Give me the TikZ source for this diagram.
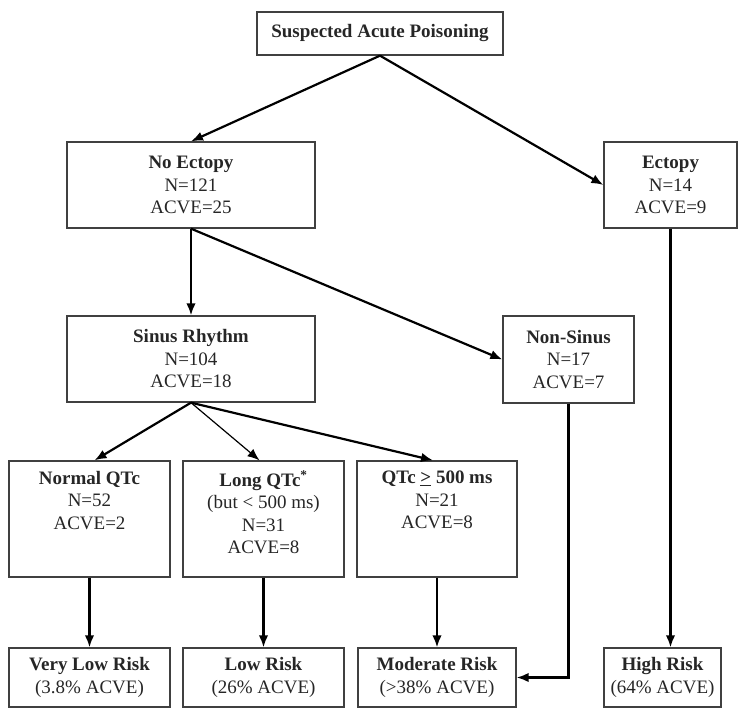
\documentclass[tikz,border=0pt]{standalone}
\usepackage{fontspec}
\setmainfont{Liberation Serif}
\usetikzlibrary{arrows.meta}
\begin{document}
\begin{tikzpicture}[x=1pt, y=-1pt, >={Latex[length=12pt,width=9.5pt]},
    box/.style={draw=black!75, line width=1.3pt, align=center, inner sep=0pt,
        text=black!85, font=\fontsize{19}{22.5}\selectfont},
    mid/.style={box, minimum width=161pt,
        execute at begin node={\begin{minipage}[c][116pt][t]{150pt}\centering\vspace*{10pt}},
        execute at end node={\end{minipage}}},
    risk/.style={box, minimum height=59pt},
    arr/.style={->, line width=2.2pt}]
    \useasboundingbox (0,0) rectangle (740,712);
    
    \node[box, minimum width=246pt, minimum height=43pt] (susp) at (380,33.5) {\textbf{Suspected Acute Poisoning}};
    
    \node[box, minimum width=248pt, minimum height=86pt] (noect) at (191,185) {\textbf{No Ectopy}\\N=121\\ACVE=25};
    \node[box, minimum width=133pt, minimum height=86pt] (ect) at (670.5,185) {\textbf{Ectopy}\\N=14\\ACVE=9};
    
    \node[box, minimum width=248pt, minimum height=86pt] (sinus) at (191,359) {\textbf{Sinus Rhythm}\\N=104\\ACVE=18};
    \node[box, minimum width=131pt, minimum height=87pt] (nonsin) at (568.5,359.5) {\textbf{Non-Sinus}\\N=17\\ACVE=7};
    
    \node[mid] (normal) at (89.5,519) {\textbf{Normal QTc}\\N=52\\ACVE=2};
    \node[mid] (long) at (263.5,519) {\textbf{Long QTc\textsuperscript{*}}\\(but < 500 ms)\\N=31\\ACVE=8};
    \node[mid, minimum width=160pt] (q500) at (437,519) {\textbf{QTc \underline{>} 500 ms}\\N=21\\ACVE=8};
    
    \node[risk, minimum width=161pt] (vlow) at (89.5,677.5) {\textbf{Very Low Risk}\\(3.8\% ACVE)};
    \node[risk, minimum width=161pt] (low) at (263.5,677.5) {\textbf{Low Risk}\\(26\% ACVE)};
    \node[risk, minimum width=158pt] (mod) at (437,677.5) {\textbf{Moderate Risk}\\(>38\% ACVE)};
    \node[risk, minimum width=117pt] (high) at (662.5,677.5) {\textbf{High Risk}\\(64\% ACVE)};
    
    \draw[arr] (susp.south) -- (noect.north);
    \draw[arr] (susp.south) -- (ect.west);
    \draw[arr] (noect.south) -- (sinus.north);
    \draw[arr] (noect.south) -- (nonsin.west);
    
    \draw[arr] (sinus.south) -- ([xshift=5pt]normal.north);
    \draw[arr, line width=1.2pt] (sinus.south) -- ([xshift=-4pt]long.north);
    \draw[arr] (sinus.south) -- ([xshift=-4pt]q500.north);
    
    \foreach \a/\b in {normal/vlow, long/low, q500/mod}
    {
        \draw[arr] (\a.south) -- (\b.north);
    }
    \draw[arr] (nonsin.south) |- (mod.east);
    \draw[arr] (ect.south) -- (ect.south |- high.north);
    
\end{tikzpicture}
\end{document}
